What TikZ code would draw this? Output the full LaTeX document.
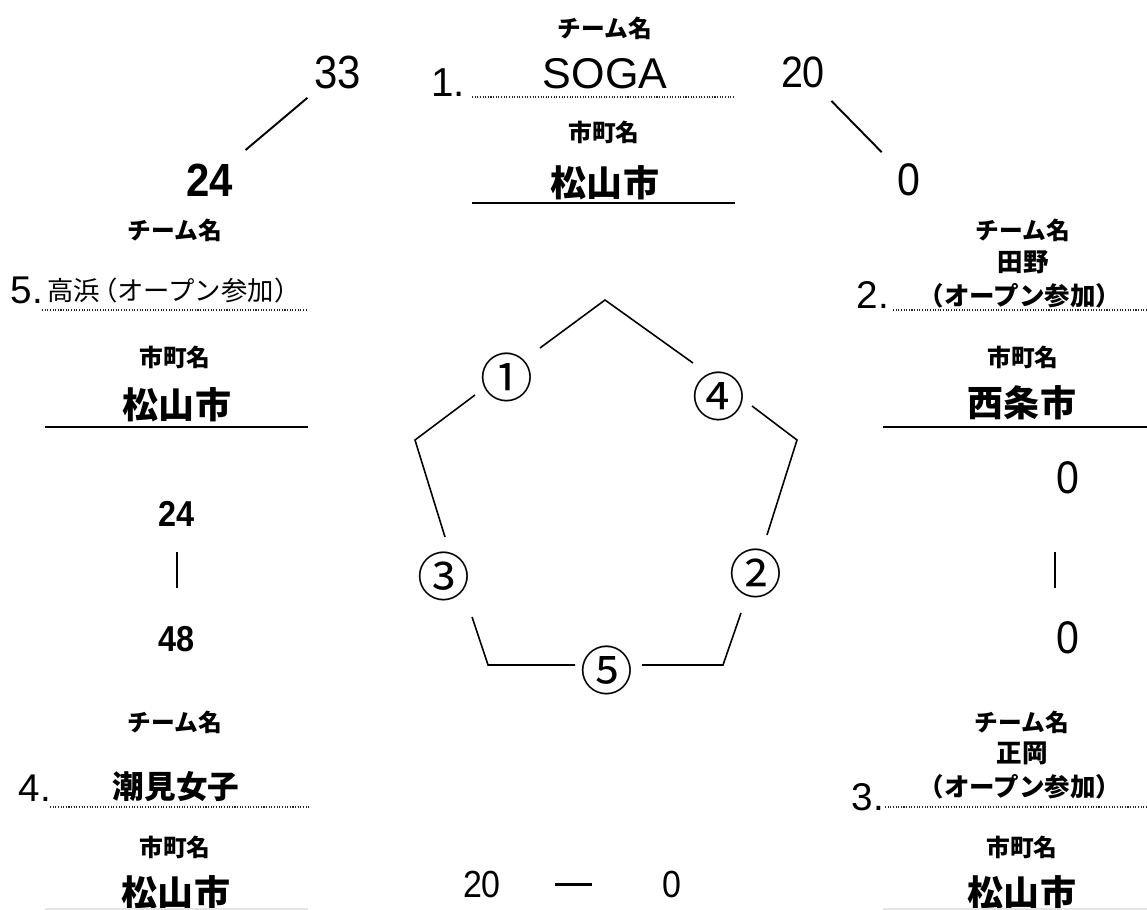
\documentclass[tikz,border=0pt]{standalone}
\usepackage{fontspec}
\setmainfont{Liberation Sans}
\newfontfamily\jp{Noto Sans CJK JP}
\newfontfamily\numfont{Liberation Sans}[FakeStretch=0.9]
\usetikzlibrary{positioning}
\tikzstyle{fieldname}=[font=\jp\bfseries\fontsize{13.5}{15}\selectfont, inner sep=0pt]
\tikzstyle{cityname}=[font=\jp\bfseries\fontsize{20.5}{24}\selectfont, inner sep=0pt]
\tikzstyle{circnum}=[font=\jp\fontsize{30}{32}\selectfont, inner sep=0pt]
\tikzstyle{dotrule}=[line width=1.2pt, dash pattern=on 0.6pt off 0.9pt, black!85]
\tikzstyle{cityrule}=[line width=1.1pt]
\tikzstyle{penta}=[line width=0.9pt]
\tikzstyle{link}=[line width=1.1pt]
\tikzset{
  plain/.style={font=\fontsize{#1}{#1}\selectfont, inner sep=0pt},
  teamname/.style={font=\jp\bfseries\fontsize{#1}{#1}\selectfont, inner sep=0pt},
  score/.style={font=\numfont\fontsize{#1}{#1}\selectfont, inner sep=0pt},
  boldscore/.style={font=\numfont\bfseries\fontsize{#1}{#1}\selectfont, inner sep=0pt}
}

\begin{document}
\begin{tikzpicture}[x=0.02cm, y=-0.02cm]
    \useasboundingbox (0,0) rectangle (1147,910);

    % team 1 (top)
    \node[fieldname] (head1) at (605,28) {チーム名};
    \node[plain=23] (seed1) at (448,83) {1.};
    \node[plain=24.5] (team1) at (605,74) {SOGA};
    \draw[dotrule] (472,97) -- (735,97);
    \node[fieldname] (town1) at (604,132) {市町名};
    \node[cityname] (city1) at (605,183) {松山市};
    \draw[cityrule] (472,203) -- (735,203);

    % team 5 (left)
    \node[fieldname] (head5) at (175,230) {チーム名};
    \node[plain=22] (seed5) at (27,290) {5.};
    \node[font=\jp\fontsize{15}{16}\selectfont, inner sep=0pt] (team5) at (174,290) {高浜\kern-0.35em（オープン参加）};
    \draw[dotrule] (42,310) -- (308,310);
    \node[fieldname] (town5) at (175,357) {市町名};
    \node[cityname] (city5) at (177,405) {松山市};
    \draw[cityrule] (45,427) -- (308,427);

    % team 2 (right)
    \node[fieldname] (head2) at (1023,230) {チーム名};
    \node[teamname=14.5] (team2) at (1023,262) {田野};
    \node[teamname=14.5] (team2b) at (1020,296) {（オープン参加）};
    \node[plain=22] (seed2) at (873,295) {2.};
    \draw[dotrule] (893,310) -- (1147,310);
    \node[fieldname] (town2) at (1023,357) {市町名};
    \node[cityname] (city2) at (1022,403) {西条市};
    \draw[cityrule] (883,427) -- (1147,427);

    % team 4 (bottom left)
    \node[fieldname] (head4) at (175,722) {チーム名};
    \node[plain=22] (seed4) at (35,788) {4.};
    \node[teamname=18] (team4) at (176,787) {潮見女子};
    \draw[dotrule] (50,807) -- (310,807);
    \node[fieldname] (town4) at (175,847) {市町名};
    \node[cityname] (city4) at (176,893) {松山市};
    \draw[cityrule, black!10] (45,909) -- (308,909);

    % team 3 (bottom right)
    \node[fieldname] (head3) at (1022,722) {チーム名};
    \node[teamname=14.5] (team3) at (1022,753) {正岡};
    \node[teamname=14.5] (team3b) at (1020,787) {（オープン参加）};
    \node[plain=22] (seed3) at (868,797) {3.};
    \draw[dotrule] (885,807) -- (1147,807);
    \node[fieldname] (town3) at (1022,847) {市町名};
    \node[cityname] (city3) at (1022,893) {松山市};
    \draw[cityrule, black!10] (883,909) -- (1147,909);

    % scores
    \node[score=26.5] (s33) at (338,72) {33};
    \node[boldscore=26.5] (s24) at (210,180) {24};
    \node[score=25] (s20) at (803,72) {20};
    \node[score=26] (s0) at (909,180) {0};
    \node[boldscore=20.5] (m24) at (177,514) {24};
    \node[boldscore=20.5] (m48) at (177,639) {48};
    \node[score=26] (r0a) at (1068,478) {0};
    \node[score=26] (r0b) at (1068,638) {0};
    \node[score=21.5] (b20) at (482,884) {20};
    \node[score=21.5] (b0) at (672,884) {0};

    \draw[link, shorten <=0.8cm, shorten >=0.93cm] (s33.center) -- (s24.center);
    \draw[link, shorten <=0.81cm, shorten >=0.78cm] (s20.center) -- (s0.center);
    \draw[link, shorten <=0.76cm, shorten >=1.02cm] (m24.center) -- (m48.center);
    \draw[link, shorten <=1.48cm, shorten >=1cm] ([xshift=-0.26cm]r0a.center) -- ([xshift=-0.26cm]r0b.center);
    \draw[link, line width=1.7pt, shorten <=1.46cm, shorten >=1.6cm] (b20.center) -- (b0.center);

    % pentagon
    \node[circnum] (c1) at (507,377) {①};
    \node[circnum] (c2) at (756,573) {②};
    \node[circnum] (c3) at (444,576) {③};
    \node[circnum] (c4) at (719,396) {④};
    \node[circnum] (c5) at (607,670) {⑤};

    \coordinate (top) at (605,300);
    \coordinate (ul) at (415,440);
    \coordinate (ll) at (488,665);
    \coordinate (lr) at (723,665);
    \coordinate (ur) at (797,440);
    \coordinate (e1a) at (540,348);
    \coordinate (e1b) at (475,395);
    \coordinate (e3a) at (445,537);
    \coordinate (e3b) at (472,617);
    \coordinate (e5a) at (575,665);
    \coordinate (e5b) at (642,665);
    \coordinate (e2b) at (741,613);
    \coordinate (e2a) at (767,535);
    \coordinate (e4b) at (752,406);
    \coordinate (e4a) at (693,363);

    \draw[penta] (e1a) -- (top) -- (e4a);
    \draw[penta] (e1b) -- (ul) -- (e3a);
    \draw[penta] (e3b) -- (ll) -- (e5a);
    \draw[penta] (e5b) -- (lr) -- (e2b);
    \draw[penta] (e2a) -- (ur) -- (e4b);

\end{tikzpicture}
\end{document}
